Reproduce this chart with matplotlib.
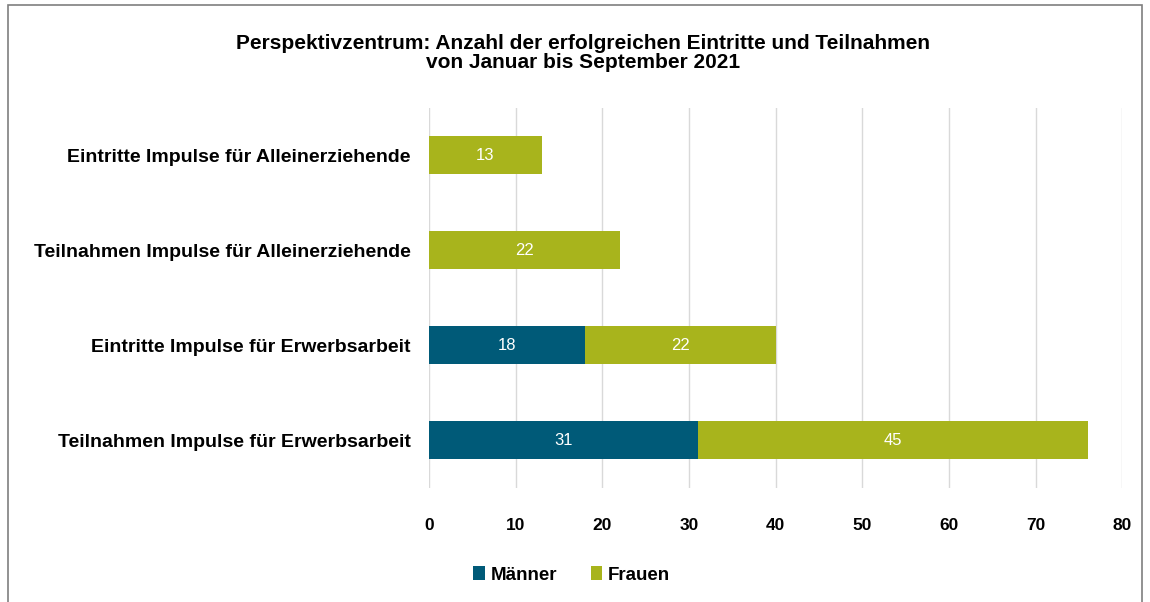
import matplotlib.pyplot as plt
from matplotlib.patches import Rectangle

# Daten aus dem Diagramm
kategorien = ['Eintritte Impulse für Alleinerziehende',
              'Teilnahmen Impulse für Alleinerziehende',
              'Eintritte Impulse für Erwerbsarbeit',
              'Teilnahmen Impulse für Erwerbsarbeit']
maenner = [0, 0, 18, 31]
frauen = [13, 22, 22, 45]
x_ticks = [0, 10, 20, 30, 40, 50, 60, 70, 80]

farbe_m = '#005a78'
farbe_f = '#a8b41c'

plt.rcParams['font.family'] = ['Liberation Sans', 'DejaVu Sans']

fig = plt.figure(figsize=(11.5, 6.02), dpi=100)
ax = fig.add_axes([0.373, 0.19, 0.603, 0.631])

pos = list(range(len(kategorien)))
ax.barh(pos, maenner, height=0.4, color=farbe_m, label='Männer', zorder=3)
ax.barh(pos, frauen, left=maenner, height=0.4, color=farbe_f, label='Frauen', zorder=3)

# Werte in die Balken schreiben
for i in pos:
    if maenner[i] > 0:
        ax.text(maenner[i] / 2, i, str(maenner[i]), ha='center', va='center',
                color='white', fontsize=12, zorder=4)
    if frauen[i] > 0:
        ax.text(maenner[i] + frauen[i] / 2, i, str(frauen[i]), ha='center', va='center',
                color='white', fontsize=12, zorder=4)

ax.set_ylim(3.5, -0.5)
ax.set_xlim(0, 80)
ax.set_xticks(x_ticks)
ax.set_yticks(pos)
ax.set_yticklabels(kategorien, fontsize=14, fontweight='bold')
ax.tick_params(axis='x', labelsize=12.5, pad=22, length=0)
ax.tick_params(axis='y', length=0, pad=13)
for lbl in ax.get_xticklabels():
    lbl.set_fontweight('bold')
ax.grid(axis='x', color='#d9d9d9', linewidth=1, zorder=0)
for s in ax.spines.values():
    s.set_visible(False)

fig.text(0.507, 0.912, 'Perspektivzentrum: Anzahl der erfolgreichen Eintritte und Teilnahmen\nvon Januar bis September 2021',
         ha='center', va='center', fontsize=15, fontweight='bold', linespacing=1.05)

fig.legend(loc='center', bbox_to_anchor=(0.497, 0.045), ncol=2, frameon=False,
           prop={'size': 13.5, 'weight': 'bold'}, handlelength=0.6, handleheight=0.8,
           handletextpad=0.3, columnspacing=1.8)

# Rahmen um die Grafik
fig.patches.append(Rectangle((0.007, -0.01), 0.986, 1.002, transform=fig.transFigure,
                             fill=False, edgecolor='#7f7f7f', linewidth=1.2))

fig.savefig('out.png', dpi=100)
